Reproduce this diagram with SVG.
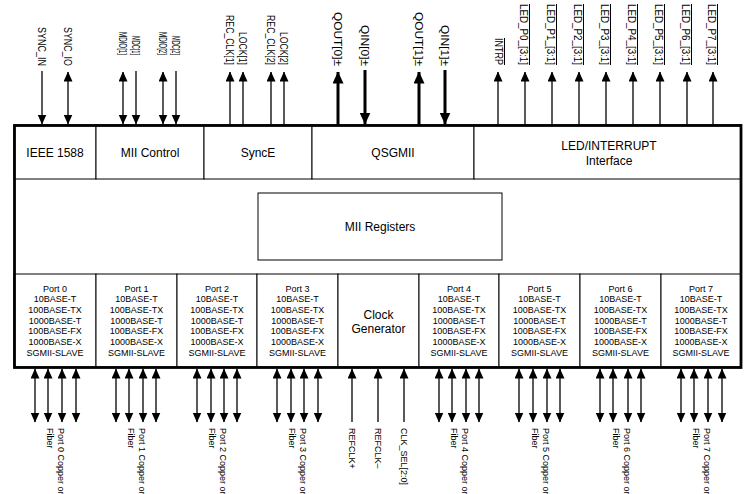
<svg xmlns="http://www.w3.org/2000/svg" width="749" height="494" viewBox="0 0 749 494">
<style>
.cell{fill:#fff;stroke:#000;stroke-width:1}
.outer{fill:none;stroke:#000;stroke-width:2.8}
.t{font-family:"Liberation Sans",Arial,sans-serif;fill:#000}
.lbl{font-size:12px;text-anchor:middle}
.port{font-size:9px;text-anchor:middle}
.pin{font-size:10px}
.bot{font-size:9px}
.q{font-size:11.5px}
.ov{text-decoration:overline}
.ln{stroke:#000;stroke-width:1.3;fill:none}
.bold{stroke-width:3}
.a1{marker-end:url(#ah)}
.a2{marker-start:url(#ah);marker-end:url(#ah)}
.ab{marker-end:url(#ahb)}
</style>
<defs>
<marker id="ah" viewBox="0 0 10 9" refX="9.5" refY="4.5" markerWidth="10" markerHeight="9" markerUnits="userSpaceOnUse" orient="auto-start-reverse"><path d="M0,0 L10,4.5 L0,9 z" fill="#000"/></marker>
<marker id="ahb" viewBox="0 0 12 11" refX="11.5" refY="5.5" markerWidth="12" markerHeight="11" markerUnits="userSpaceOnUse" orient="auto-start-reverse"><path d="M0,0 L12,5.5 L0,11 z" fill="#000"/></marker>
</defs>
<rect width="749" height="494" fill="#fff"/>

<g id="ieee1588"><rect class="cell" x="14" y="125" width="82" height="54"/><text class="t lbl" x="55" y="157">IEEE 1588</text></g>
<g id="mii-control"><rect class="cell" x="96" y="125" width="108" height="54"/><text class="t lbl" x="150" y="157">MII Control</text></g>
<g id="synce"><rect class="cell" x="204" y="125" width="108" height="54"/><text class="t lbl" x="258" y="157">SyncE</text></g>
<g id="qsgmii"><rect class="cell" x="312" y="125" width="162" height="54"/><text class="t lbl" x="393" y="157">QSGMII</text></g>
<g id="led-interface"><rect class="cell" x="474" y="125" width="267" height="54"/><text class="t lbl" x="609" y="150">LED/INTERRUPT</text><text class="t lbl" x="609" y="165">Interface</text></g>

<g id="mii-registers"><rect class="cell" x="258" y="193" width="244" height="67"/><text class="t lbl" x="380" y="231">MII Registers</text></g>

<g id="port0"><rect class="cell" x="14" y="274" width="82" height="93"/><text class="t port"><tspan x="55" y="291.5">Port 0</tspan><tspan x="55" y="302.2">10BASE-T</tspan><tspan x="55" y="312.9">100BASE-TX</tspan><tspan x="55" y="323.6">1000BASE-T</tspan><tspan x="55" y="334.3">100BASE-FX</tspan><tspan x="55" y="345">1000BASE-X</tspan><tspan x="55" y="355.7">SGMII-SLAVE</tspan></text></g>
<g id="port1"><rect class="cell" x="96" y="274" width="81" height="93"/><text class="t port"><tspan x="136.5" y="291.5">Port 1</tspan><tspan x="136.5" y="302.2">10BASE-T</tspan><tspan x="136.5" y="312.9">100BASE-TX</tspan><tspan x="136.5" y="323.6">1000BASE-T</tspan><tspan x="136.5" y="334.3">100BASE-FX</tspan><tspan x="136.5" y="345">1000BASE-X</tspan><tspan x="136.5" y="355.7">SGMII-SLAVE</tspan></text></g>
<g id="port2"><rect class="cell" x="177" y="274" width="80" height="93"/><text class="t port"><tspan x="217" y="291.5">Port 2</tspan><tspan x="217" y="302.2">10BASE-T</tspan><tspan x="217" y="312.9">100BASE-TX</tspan><tspan x="217" y="323.6">1000BASE-T</tspan><tspan x="217" y="334.3">100BASE-FX</tspan><tspan x="217" y="345">1000BASE-X</tspan><tspan x="217" y="355.7">SGMII-SLAVE</tspan></text></g>
<g id="port3"><rect class="cell" x="257" y="274" width="81" height="93"/><text class="t port"><tspan x="297.5" y="291.5">Port 3</tspan><tspan x="297.5" y="302.2">10BASE-T</tspan><tspan x="297.5" y="312.9">100BASE-TX</tspan><tspan x="297.5" y="323.6">1000BASE-T</tspan><tspan x="297.5" y="334.3">100BASE-FX</tspan><tspan x="297.5" y="345">1000BASE-X</tspan><tspan x="297.5" y="355.7">SGMII-SLAVE</tspan></text></g>
<g id="clock-generator"><rect class="cell" x="338" y="274" width="81" height="93"/><text class="t lbl" x="378.5" y="318.5">Clock</text><text class="t lbl" x="378.5" y="332.5">Generator</text></g>
<g id="port4"><rect class="cell" x="419" y="274" width="80" height="93"/><text class="t port"><tspan x="459" y="291.5">Port 4</tspan><tspan x="459" y="302.2">10BASE-T</tspan><tspan x="459" y="312.9">100BASE-TX</tspan><tspan x="459" y="323.6">1000BASE-T</tspan><tspan x="459" y="334.3">100BASE-FX</tspan><tspan x="459" y="345">1000BASE-X</tspan><tspan x="459" y="355.7">SGMII-SLAVE</tspan></text></g>
<g id="port5"><rect class="cell" x="499" y="274" width="81" height="93"/><text class="t port"><tspan x="539.5" y="291.5">Port 5</tspan><tspan x="539.5" y="302.2">10BASE-T</tspan><tspan x="539.5" y="312.9">100BASE-TX</tspan><tspan x="539.5" y="323.6">1000BASE-T</tspan><tspan x="539.5" y="334.3">100BASE-FX</tspan><tspan x="539.5" y="345">1000BASE-X</tspan><tspan x="539.5" y="355.7">SGMII-SLAVE</tspan></text></g>
<g id="port6"><rect class="cell" x="580" y="274" width="81" height="93"/><text class="t port"><tspan x="620.5" y="291.5">Port 6</tspan><tspan x="620.5" y="302.2">10BASE-T</tspan><tspan x="620.5" y="312.9">100BASE-TX</tspan><tspan x="620.5" y="323.6">1000BASE-T</tspan><tspan x="620.5" y="334.3">100BASE-FX</tspan><tspan x="620.5" y="345">1000BASE-X</tspan><tspan x="620.5" y="355.7">SGMII-SLAVE</tspan></text></g>
<g id="port7"><rect class="cell" x="661" y="274" width="80" height="93"/><text class="t port"><tspan x="701" y="291.5">Port 7</tspan><tspan x="701" y="302.2">10BASE-T</tspan><tspan x="701" y="312.9">100BASE-TX</tspan><tspan x="701" y="323.6">1000BASE-T</tspan><tspan x="701" y="334.3">100BASE-FX</tspan><tspan x="701" y="345">1000BASE-X</tspan><tspan x="701" y="355.7">SGMII-SLAVE</tspan></text></g>

<g id="chip-outline"><rect class="outer" x="14.5" y="125.5" width="726.5" height="242"/></g>

<g id="connectors">
<line class="ln a1" x1="42" y1="71" x2="42" y2="124"/>
<line class="ln a2" x1="68" y1="72" x2="68" y2="124"/>
<line class="ln a2" x1="123" y1="72" x2="123" y2="124"/>
<line class="ln a1" x1="136" y1="71" x2="136" y2="124"/>
<line class="ln a2" x1="163" y1="72" x2="163" y2="124"/>
<line class="ln a1" x1="176" y1="71" x2="176" y2="124"/>
<line class="ln a1" x1="230" y1="125" x2="230" y2="72"/>
<line class="ln a1" x1="243" y1="125" x2="243" y2="72"/>
<line class="ln a1" x1="271" y1="125" x2="271" y2="72"/>
<line class="ln a1" x1="284" y1="125" x2="284" y2="72"/>
<line class="ln bold ab" x1="338" y1="125" x2="338" y2="72"/>
<line class="ln bold ab" x1="365" y1="70" x2="365" y2="124"/>
<line class="ln bold ab" x1="419" y1="125" x2="419" y2="72"/>
<line class="ln bold ab" x1="445" y1="70" x2="445" y2="124"/>
<line class="ln a1" x1="498" y1="125" x2="498" y2="72"/>
<line class="ln a1" x1="525" y1="125" x2="525" y2="72"/>
<line class="ln a1" x1="552" y1="125" x2="552" y2="72"/>
<line class="ln a1" x1="579" y1="125" x2="579" y2="72"/>
<line class="ln a1" x1="606" y1="125" x2="606" y2="72"/>
<line class="ln a1" x1="633" y1="125" x2="633" y2="72"/>
<line class="ln a1" x1="660" y1="125" x2="660" y2="72"/>
<line class="ln a1" x1="687" y1="125" x2="687" y2="72"/>
<line class="ln a1" x1="713" y1="125" x2="713" y2="72"/>

<line class="ln a2" x1="35" y1="369" x2="35" y2="422"/>
<line class="ln a2" x1="48" y1="369" x2="48" y2="422"/>
<line class="ln a2" x1="62" y1="369" x2="62" y2="422"/>
<line class="ln a2" x1="76" y1="369" x2="76" y2="422"/>
<line class="ln a2" x1="116" y1="369" x2="116" y2="422"/>
<line class="ln a2" x1="129" y1="369" x2="129" y2="422"/>
<line class="ln a2" x1="143" y1="369" x2="143" y2="422"/>
<line class="ln a2" x1="156" y1="369" x2="156" y2="422"/>
<line class="ln a2" x1="197" y1="369" x2="197" y2="422"/>
<line class="ln a2" x1="211" y1="369" x2="211" y2="422"/>
<line class="ln a2" x1="224" y1="369" x2="224" y2="422"/>
<line class="ln a2" x1="237" y1="369" x2="237" y2="422"/>
<line class="ln a2" x1="277" y1="369" x2="277" y2="422"/>
<line class="ln a2" x1="291" y1="369" x2="291" y2="422"/>
<line class="ln a2" x1="304" y1="369" x2="304" y2="422"/>
<line class="ln a2" x1="318" y1="369" x2="318" y2="422"/>
<line class="ln a1" x1="352" y1="422" x2="352" y2="369"/>
<line class="ln a1" x1="378" y1="422" x2="378" y2="369"/>
<line class="ln a1" x1="404" y1="422" x2="404" y2="369"/>
<line class="ln a2" x1="439" y1="369" x2="439" y2="422"/>
<line class="ln a2" x1="452" y1="369" x2="452" y2="422"/>
<line class="ln a2" x1="466" y1="369" x2="466" y2="422"/>
<line class="ln a2" x1="479" y1="369" x2="479" y2="422"/>
<line class="ln a2" x1="519" y1="369" x2="519" y2="422"/>
<line class="ln a2" x1="533" y1="369" x2="533" y2="422"/>
<line class="ln a2" x1="547" y1="369" x2="547" y2="422"/>
<line class="ln a2" x1="560" y1="369" x2="560" y2="422"/>
<line class="ln a2" x1="600" y1="369" x2="600" y2="422"/>
<line class="ln a2" x1="613" y1="369" x2="613" y2="422"/>
<line class="ln a2" x1="628" y1="369" x2="628" y2="422"/>
<line class="ln a2" x1="641" y1="369" x2="641" y2="422"/>
<line class="ln a2" x1="681" y1="369" x2="681" y2="422"/>
<line class="ln a2" x1="694" y1="369" x2="694" y2="422"/>
<line class="ln a2" x1="708" y1="369" x2="708" y2="422"/>
<line class="ln a2" x1="722" y1="369" x2="722" y2="422"/>
</g>

<g id="pin-labels-top">
<text class="t pin" transform="translate(38.4,27) rotate(90)" textLength="39" lengthAdjust="spacingAndGlyphs">SYNC_IN</text>
<text class="t pin" transform="translate(64.4,27) rotate(90)" textLength="39" lengthAdjust="spacingAndGlyphs">SYNC_IO</text>
<text class="t pin" transform="translate(119.4,32) rotate(90)" textLength="23" lengthAdjust="spacingAndGlyphs">MDIO[1]</text>
<text class="t pin" transform="translate(132.4,36) rotate(90)" textLength="19" lengthAdjust="spacingAndGlyphs">MDC[1]</text>
<text class="t pin" transform="translate(159.4,32) rotate(90)" textLength="23" lengthAdjust="spacingAndGlyphs">MDIO[2]</text>
<text class="t pin" transform="translate(172.4,36) rotate(90)" textLength="19" lengthAdjust="spacingAndGlyphs">MDC[2]</text>
<text class="t pin" transform="translate(226.4,15) rotate(90)" textLength="50" lengthAdjust="spacingAndGlyphs">REC_CLK[1]</text>
<text class="t pin" transform="translate(239.4,32) rotate(90)" textLength="33" lengthAdjust="spacingAndGlyphs">LOCK[1]</text>
<text class="t pin" transform="translate(267.4,15) rotate(90)" textLength="50" lengthAdjust="spacingAndGlyphs">REC_CLK[2]</text>
<text class="t pin" transform="translate(280.4,32) rotate(90)" textLength="33" lengthAdjust="spacingAndGlyphs">LOCK[2]</text>
<text class="t q" transform="translate(334,12) rotate(90)" textLength="54" lengthAdjust="spacingAndGlyphs">QOUT[0]±</text>
<text class="t q" transform="translate(361,25) rotate(90)" textLength="41" lengthAdjust="spacingAndGlyphs">QIN[0]±</text>
<text class="t q" transform="translate(415,12) rotate(90)" textLength="54" lengthAdjust="spacingAndGlyphs">QOUT[1]±</text>
<text class="t q" transform="translate(441,25) rotate(90)" textLength="41" lengthAdjust="spacingAndGlyphs">QIN[1]±</text>
<text class="t pin ov" transform="translate(495,38) rotate(90)" textLength="27" lengthAdjust="spacingAndGlyphs">INTRP</text>
<text class="t pin ov" transform="translate(520,4) rotate(90)" textLength="61" lengthAdjust="spacingAndGlyphs">LED_P0_[3:1]</text>
<text class="t pin ov" transform="translate(547,4) rotate(90)" textLength="61" lengthAdjust="spacingAndGlyphs">LED_P1_[3:1]</text>
<text class="t pin ov" transform="translate(574,4) rotate(90)" textLength="61" lengthAdjust="spacingAndGlyphs">LED_P2_[3:1]</text>
<text class="t pin ov" transform="translate(601,4) rotate(90)" textLength="61" lengthAdjust="spacingAndGlyphs">LED_P3_[3:1]</text>
<text class="t pin ov" transform="translate(628,4) rotate(90)" textLength="61" lengthAdjust="spacingAndGlyphs">LED_P4_[3:1]</text>
<text class="t pin ov" transform="translate(655,4) rotate(90)" textLength="61" lengthAdjust="spacingAndGlyphs">LED_P5_[3:1]</text>
<text class="t pin ov" transform="translate(682,4) rotate(90)" textLength="61" lengthAdjust="spacingAndGlyphs">LED_P6_[3:1]</text>
<text class="t pin ov" transform="translate(708,4) rotate(90)" textLength="61" lengthAdjust="spacingAndGlyphs">LED_P7_[3:1]</text>
</g>

<g id="pin-labels-bottom">
<text class="t bot" transform="translate(57.5,428) rotate(90)"><tspan x="0" y="0">Port 0 Copper or</tspan><tspan x="0" y="11">Fiber</tspan></text>
<text class="t bot" transform="translate(138.5,428) rotate(90)"><tspan x="0" y="0">Port 1 Copper or</tspan><tspan x="0" y="11">Fiber</tspan></text>
<text class="t bot" transform="translate(219.5,428) rotate(90)"><tspan x="0" y="0">Port 2 Copper or</tspan><tspan x="0" y="11">Fiber</tspan></text>
<text class="t bot" transform="translate(299.5,428) rotate(90)"><tspan x="0" y="0">Port 3 Copper or</tspan><tspan x="0" y="11">Fiber</tspan></text>
<text class="t bot" transform="translate(349,428) rotate(90)">REFCLK+</text>
<text class="t bot" transform="translate(375,428) rotate(90)">REFCLK–</text>
<text class="t bot" transform="translate(401,428) rotate(90)">CLK_SEL[2:0]</text>
<text class="t bot" transform="translate(461.5,428) rotate(90)"><tspan x="0" y="0">Port 4 Copper or</tspan><tspan x="0" y="11">Fiber</tspan></text>
<text class="t bot" transform="translate(542.5,428) rotate(90)"><tspan x="0" y="0">Port 5 Copper or</tspan><tspan x="0" y="11">Fiber</tspan></text>
<text class="t bot" transform="translate(623.5,428) rotate(90)"><tspan x="0" y="0">Port 6 Copper or</tspan><tspan x="0" y="11">Fiber</tspan></text>
<text class="t bot" transform="translate(703.5,428) rotate(90)"><tspan x="0" y="0">Port 7 Copper or</tspan><tspan x="0" y="11">Fiber</tspan></text>
</g>
</svg>
